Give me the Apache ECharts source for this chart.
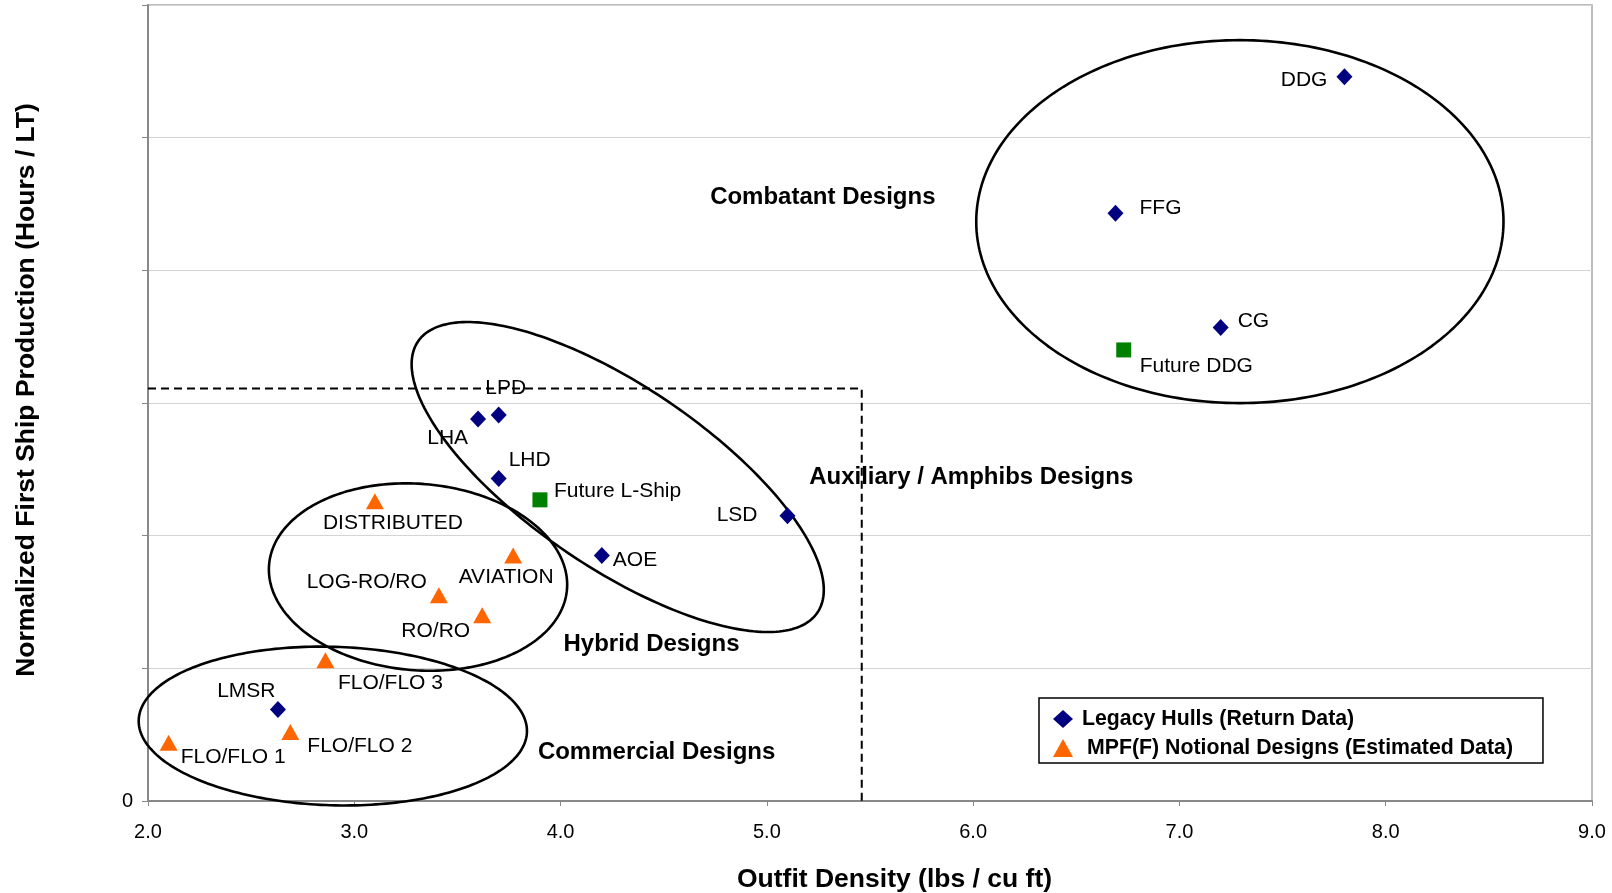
<!DOCTYPE html>
<html><head><meta charset="utf-8">
<script src="https://cdn.jsdelivr.net/npm/echarts@6/dist/echarts.min.js"></script>
<style>html,body{margin:0;padding:0;background:#fff}#chart{width:1612px;height:893px}</style>
</head><body><div id="chart"></div>
<script>
// ---- data ----
const xMin = 2, xMax = 9, yMin = 0, yMax = 6;
const legacyName = 'Legacy Hulls (Return Data)';
const mpfName = 'MPF(F) Notional Designs (Estimated Data)';
const futureName = 'Future Designs';

const legacyNames = ['DDG', 'FFG', 'CG', 'LPD', 'LHA', 'LHD', 'LSD', 'AOE', 'LMSR'];
const legacyX = [7.80, 6.69, 7.20, 3.70, 3.60, 3.70, 5.10, 4.20, 2.63];
const legacyY = [5.46, 4.43, 3.57, 2.91, 2.88, 2.43, 2.15, 1.85, 0.69];

const mpfNames = ['DISTRIBUTED', 'AVIATION', 'LOG-RO/RO', 'RO/RO', 'FLO/FLO 3', 'FLO/FLO 2', 'FLO/FLO 1'];
const mpfX = [3.10, 3.77, 3.41, 3.62, 2.86, 2.69, 2.10];
const mpfY = [2.26, 1.85, 1.55, 1.40, 1.06, 0.52, 0.44];

const futureNames = ['Future DDG', 'Future L-Ship'];
const futureX = [6.73, 3.90];
const futureY = [3.40, 2.27];

// dashed boundary box corner
const boundX = 5.46, boundY = 3.11;

// group annotations (data coordinates of text start)
const groupNames = ['Combatant Designs', 'Auxiliary / Amphibs Designs', 'Hybrid Designs', 'Commercial Designs'];
const groupX = [4.725, 5.205, 4.014, 3.890];
const groupY = [4.549, 2.442, 1.181, 0.369];

// grouping ellipses: centre, end of one semi-axis, end of the other semi-axis (data units)
const ellipseCenter = [[7.293, 4.367], [4.277, 2.442], [3.309, 1.688], [2.896, 0.565]];
const ellipseAxisA  = [[8.571, 4.367], [5.245, 1.420], [4.031, 1.594], [3.837, 0.521]];
const ellipseAxisB  = [[7.293, 5.735], [4.030, 1.876], [3.271, 0.988], [2.885, -0.032]];

// ---- label placement (style) ----
const labelPlace = {
  'DDG': ['right', -17, 4], 'FFG': ['left', 24, -5], 'CG': ['left', 17, -6],
  'Future DDG': ['left', 16, 16], 'LPD': ['center', 7, -27], 'LHA': ['right', -10, 19],
  'LHD': ['left', 10, -18], 'Future L-Ship': ['left', 14, -9], 'LSD': ['right', -30, -1],
  'AOE': ['left', 11, 5], 'DISTRIBUTED': ['center', 18, 22], 'AVIATION': ['center', -7, 22],
  'LOG-RO/RO': ['right', -12, -13], 'RO/RO': ['right', -12, 15.5], 'FLO/FLO 3': ['left', 12.5, 22.6],
  'LMSR': ['center', -31.6, -18], 'FLO/FLO 2': ['left', 17, 14], 'FLO/FLO 1': ['left', 12, 15]
};
const FONT = '"Liberation Sans", Arial, sans-serif';

function pts(names, xs, ys) {
  return names.map((n, i) => {
    const p = labelPlace[n];
    return { name: n, value: [xs[i], ys[i]], label: { align: p[0], offset: [p[1], p[2]] } };
  });
}
const pointLabel = {
  show: true, position: ['50%', '50%'], verticalAlign: 'middle', formatter: '{b}',
  color: '#000', fontSize: 21, fontFamily: FONT
};

const chart = echarts.init(document.getElementById('chart'));
chart.setOption({
  animation: false,
  backgroundColor: '#fff',
  textStyle: { fontFamily: FONT },
  grid: { left: 148, right: 20, top: 5, bottom: 92, show: true, borderColor: '#a6a6a6', borderWidth: 1.5,
          containLabel: false, outerBoundsMode: 'none' },
  xAxis: {
    type: 'value', min: xMin, max: xMax, interval: 1,
    name: 'Outfit Density (lbs / cu ft)', nameLocation: 'middle', nameGap: 65,
    nameTextStyle: { fontSize: 26.5, fontWeight: 'bold', color: '#000', fontFamily: FONT, padding: [0, 0, 0, 49] },
    axisLine: { onZero: false, lineStyle: { color: '#888', width: 2 } },
    axisTick: { show: true, length: 5, lineStyle: { color: '#888' } },
    axisLabel: { margin: 21, fontSize: 20, color: '#000', fontFamily: FONT, formatter: v => v.toFixed(1) },
    splitLine: { show: false }
  },
  yAxis: {
    type: 'value', min: yMin, max: yMax, interval: 1,
    name: 'Normalized First Ship Production (Hours / LT)', nameLocation: 'middle', nameGap: 108,
    nameTextStyle: { fontSize: 26.5, fontWeight: 'bold', color: '#000', fontFamily: FONT, padding: [0, 0, 0, 26] },
    axisLine: { show: true, onZero: false, lineStyle: { color: '#888', width: 2 } },
    axisTick: { show: true, length: 6, lineStyle: { color: '#888' } },
    axisLabel: { margin: 15, fontSize: 20, color: '#000', fontFamily: FONT, formatter: v => (v === 0 ? '0' : '') },
    splitLine: { show: true, lineStyle: { color: '#d4d4d4', width: 1 } }
  },
  legend: {
    orient: 'vertical', left: 1039, top: 698,
    data: [
      { name: legacyName, icon: 'diamond', textStyle: { padding: [0, 0, 0, 4] } },
      { name: mpfName, icon: 'triangle', textStyle: { padding: [0, 0, 0, 9] } }
    ],
    itemWidth: 20, itemHeight: 18, itemGap: 7, padding: [10, 30, 4, 14],
    borderColor: '#000', borderWidth: 1.5, backgroundColor: '#fff', selectedMode: false,
    textStyle: { fontSize: 21.3, fontWeight: 'bold', color: '#000', fontFamily: FONT, lineHeight: 22 }
  },
  series: [
    {
      type: 'line', silent: true, symbol: 'none', z: 1,
      data: [[xMin, boundY], [boundX, boundY], [boundX, yMin]],
      lineStyle: { color: '#000', width: 2, type: [8, 5] }
    },
    {
      type: 'custom', silent: true, z: 2, clip: false,
      data: ellipseCenter.map((c, i) => [c[0], c[1], ellipseAxisA[i][0], ellipseAxisA[i][1], ellipseAxisB[i][0], ellipseAxisB[i][1]]),
      encode: { x: 0, y: 1 },
      renderItem(params, api) {
        const c = api.coord([api.value(0), api.value(1)]);
        const a = api.coord([api.value(2), api.value(3)]);
        const b = api.coord([api.value(4), api.value(5)]);
        const u = [a[0] - c[0], a[1] - c[1]], v = [b[0] - c[0], b[1] - c[1]];
        const p = [];
        for (let k = 0; k < 240; k++) {
          const t = k / 240 * 2 * Math.PI;
          p.push([c[0] + Math.cos(t) * u[0] + Math.sin(t) * v[0], c[1] + Math.cos(t) * u[1] + Math.sin(t) * v[1]]);
        }
        return { type: 'polygon', shape: { points: p }, style: { fill: 'none', stroke: '#000', lineWidth: 2.6 } };
      }
    },
    {
      type: 'custom', silent: true, z: 3, clip: false,
      data: groupX.map((x, i) => [x, groupY[i]]),
      encode: { x: 0, y: 1 },
      renderItem(params, api) {
        const p = api.coord([api.value(0), api.value(1)]);
        return {
          type: 'text', x: p[0], y: p[1],
          style: { text: groupNames[params.dataIndex], font: 'bold 24px ' + FONT, fill: '#000', align: 'left', verticalAlign: 'middle' }
        };
      }
    },
    {
      name: legacyName, type: 'scatter', symbol: 'diamond', symbolSize: [16, 17], z: 5,
      itemStyle: { color: '#000080', opacity: 1 },
      label: pointLabel, data: pts(legacyNames, legacyX, legacyY)
    },
    {
      name: mpfName, type: 'scatter', symbol: 'triangle', symbolSize: [18, 16], z: 5,
      itemStyle: { color: '#ff6600', opacity: 1 },
      label: pointLabel, data: pts(mpfNames, mpfX, mpfY)
    },
    {
      name: futureName, type: 'scatter', symbol: 'rect', symbolSize: [15, 15], z: 5,
      itemStyle: { color: '#008000', opacity: 1 },
      label: pointLabel, data: pts(futureNames, futureX, futureY)
    }
  ]
});
</script></body></html>
